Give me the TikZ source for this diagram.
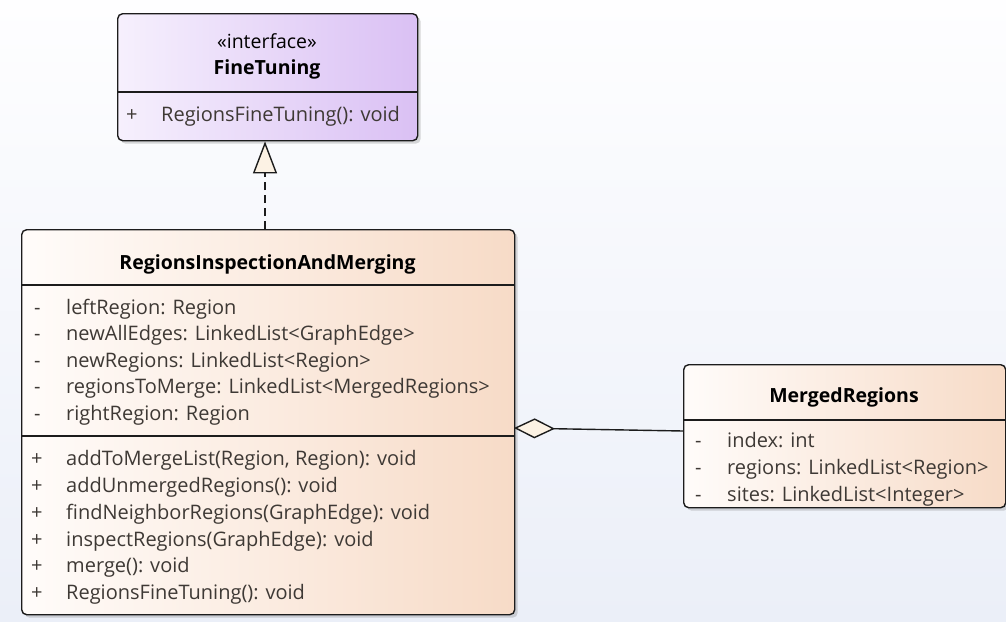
\documentclass[tikz,border=0pt]{standalone}
\usepackage{fontspec}
\setmainfont{Open Sans}
\usetikzlibrary{arrows.meta,shadows,calc}

\definecolor{bgtop}{HTML}{FEFEFF}
\definecolor{bgbot}{HTML}{EBEFF8}
\definecolor{ifL}{HTML}{F6F0FD}
\definecolor{ifR}{HTML}{DAC0F4}
\definecolor{clL}{HTML}{FFFCFA}
\definecolor{clR}{HTML}{F7DBC7}
\definecolor{memb}{HTML}{3E3935}
\definecolor{edge}{HTML}{1C1C1C}
\definecolor{cream}{HTML}{FCF2E4}

\tikzset{
  umlbox/.style={draw=edge, line width=1.4pt, rounded corners=5pt, anchor=north west,
    inner sep=0pt, shading=axis, shading angle=90,
    drop shadow={shadow xshift=3pt, shadow yshift=-3pt, opacity=0.25, fill=black!60}},
  ifbox/.style={umlbox, left color=ifL, right color=ifR},
  clbox/.style={umlbox, left color=clL, right color=clR},
  divider/.style={draw=edge, line width=1.4pt},
  title/.style={anchor=mid, font=\fontsize{19.5}{23}\selectfont\bfseries, text=black, inner sep=0pt},
  stereo/.style={anchor=mid, font=\fontsize{19.5}{23}\selectfont, text=black, inner sep=0pt},
  member/.style={anchor=mid west, font=\fontsize{20}{24}\selectfont, text=memb, inner sep=0pt},
  realize/.style={draw=edge, line width=1.4pt, dash pattern=on 8pt off 5pt,
    -{Triangle[open, fill=cream, length=32pt, width=24pt, line width=1.4pt]}},
  aggregate/.style={draw=edge, line width=1.4pt,
    {Diamond[open, fill=cream, length=41pt, width=20pt, line width=1.4pt]}-}
}

\begin{document}
\begin{tikzpicture}[x=1pt,y=-1pt]
\shade[top color=bgtop, bottom color=bgbot] (0,0) rectangle (1006,621);
\useasboundingbox (0,0) rectangle (1006,621);

% interface FineTuning
\node[ifbox, minimum width=300pt, minimum height=127pt] (ft) at (117,13) {};
\node[stereo] (ftst) at (267,46) {«interface»};
\node[title] (ftname) at (267,72) {FineTuning};
\path[divider] (117,92) -- (417,92);
\node[member] (ftv1) at (126,119) {+};
\node[member] (ftm1) at (161,119) {RegionsFineTuning(): void};

% class RegionsInspectionAndMerging
\node[clbox, minimum width=493pt, minimum height=385pt] (rim) at (21,229) {};
\node[title] (rimname) at (267.5,267) {RegionsInspectionAndMerging};
\path[divider] (21,285) -- (514,285);
\path[divider] (21,436) -- (514,436);
\foreach \t/\y [count=\i] in {
  leftRegion: Region/312,
  newAllEdges: LinkedList<GraphEdge>/338,
  newRegions: LinkedList<Region>/365,
  regionsToMerge: LinkedList<MergedRegions>/391,
  rightRegion: Region/418}{
  \node[member] (rimav\i) at (34,\y) {-};
  \node[member] (rima\i) at (66,\y) {\t};
}
\foreach \t/\y [count=\i] in {
  {addToMergeList(Region, Region): void}/463,
  addUnmergedRegions(): void/490,
  findNeighborRegions(GraphEdge): void/517,
  inspectRegions(GraphEdge): void/544,
  merge(): void/570,
  RegionsFineTuning(): void/597}{
  \node[member] (rimmv\i) at (31,\y) {+};
  \node[member] (rimm\i) at (66,\y) {\t};
}

% class MergedRegions
\node[clbox, minimum width=322pt, minimum height=143pt] (mr) at (683,364) {};
\node[title] (mrname) at (844,400) {MergedRegions};
\path[divider] (683,420) -- (1005,420);
\foreach \t/\y [count=\i] in {
  index: int/445,
  regions: LinkedList<Region>/472,
  sites: LinkedList<Integer>/499}{
  \node[member] (mrav\i) at (695,\y) {-};
  \node[member] (mra\i) at (727,\y) {\t};
}

% relations
\coordinate (realfrom) at (265,229);
\path[realize] (realfrom) -- (ft.south -| realfrom);
\coordinate (aggfrom) at (514,428);
\coordinate (aggto) at (683,431);
\path[aggregate] (aggfrom) -- (aggto);
\end{tikzpicture}
\end{document}
